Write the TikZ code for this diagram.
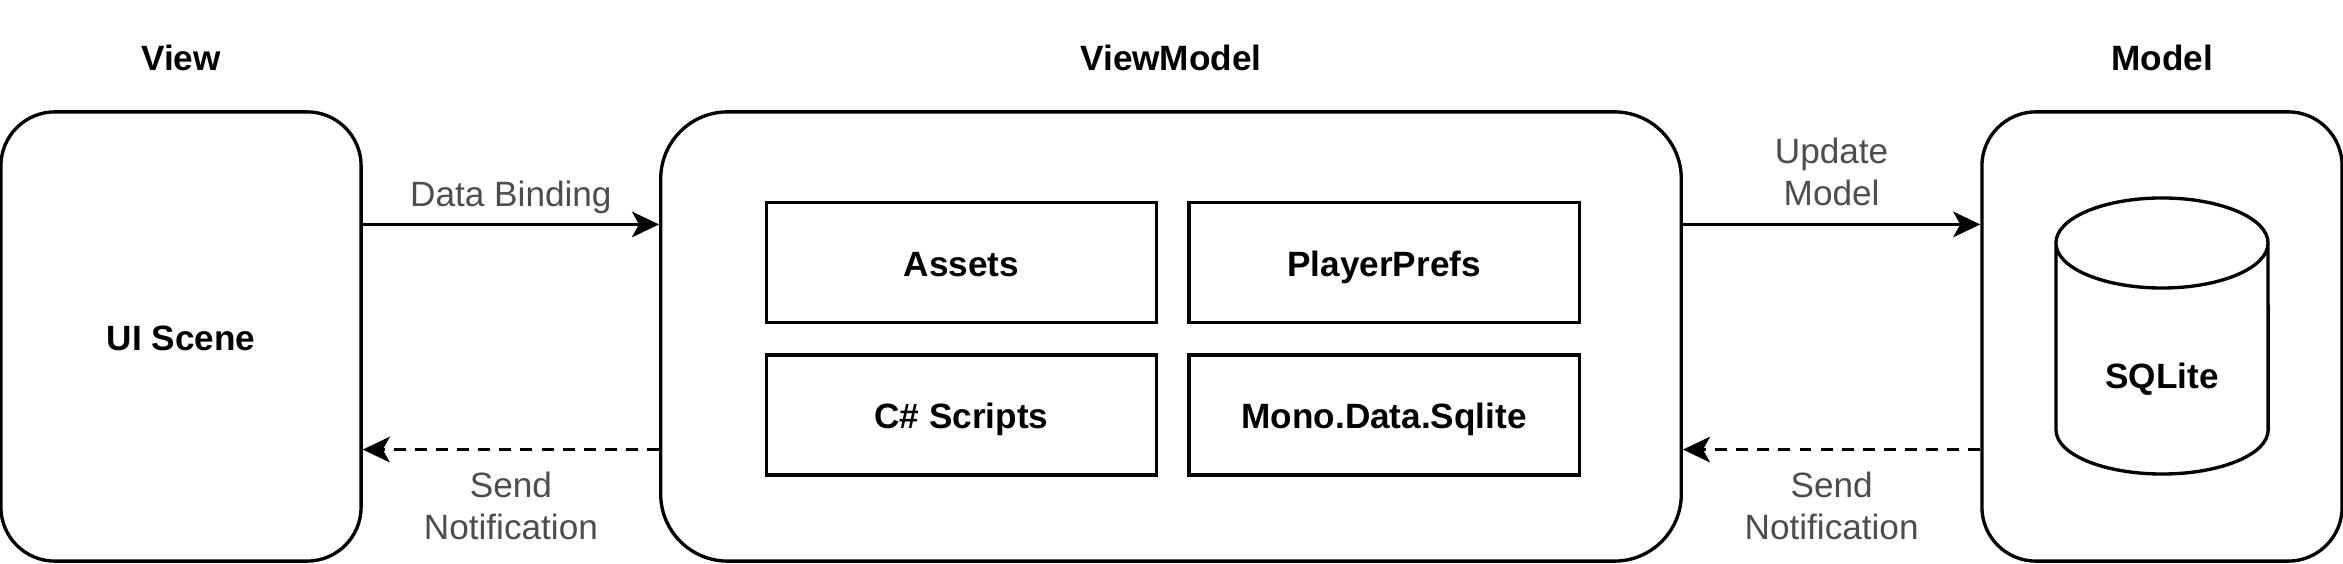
\documentclass[tikz,border=0pt]{standalone}
\usepackage{fontspec}
\setmainfont{Liberation Sans}
\usetikzlibrary{
arrows.meta,
positioning
}
\tikzset{>={Stealth[length=7.7pt,width=7.3pt,inset=2pt]}}
\definecolor{labelgray}{HTML}{4D4D4D}

\begin{document}
\begin{tikzpicture}[x=0.01cm, y=0.01cm, node distance=0.29cm,
		boldtext/.style={font=\bfseries, text height=1em, text depth=0.2em},
		layer/.style={draw, line width=0.95pt, rounded corners=0.54cm, minimum width=3.6cm, minimum height=4.49cm, boldtext},
		part/.style={draw, line width=0.95pt, minimum width=3.9cm, minimum height=1.2cm, inner sep=0pt, boldtext},
		title/.style={font=\bfseries},
		flow/.style={->, line width=0.75pt},
		back/.style={flow, dash pattern=on 3.4pt off 2.6pt},
		edgelabel/.style={text=labelgray, align=center}]
		\useasboundingbox (0,0) rectangle (2343,564);
		
		\node[layer] (view) at (181,227.5) {UI Scene};
		\node[layer, minimum width=10.2cm, rounded corners=0.67cm] (viewmodel) at (1171,227.5) {};
		\node[layer] (model) at (2162,227.5) {};
		
		\node[title, above=0.27cm of view] (viewtitle) {View};
		\node[title, above=0.27cm of viewmodel] (viewmodeltitle) {ViewModel};
		\node[title, above=0.27cm of model] (modeltitle) {Model};
		
		\node[part] (assets) at (961.5,301.5) {Assets};
		\node[part, right=of assets] (prefs) {PlayerPrefs};
		\node[part, below=of assets] (scripts) {C\# Scripts};
		\node[part, right=of scripts] (mono) {Mono.Data.Sqlite};
		
		\node[boldtext] (sqlite) at (2162,190) {SQLite};
		\draw[line width=0.95pt] (2056,321) -- (2056,134) arc[start angle=180, end angle=360, x radius=1.06cm, y radius=0.44cm] -- (2268,321) arc[start angle=0, end angle=360, x radius=1.06cm, y radius=0.45cm];
		
		\draw[flow] ([yshift=1.12cm]view.east) -- node[edgelabel, above, yshift=-0.8pt] {Data Binding} ([yshift=1.12cm]viewmodel.west);
		\draw[back] ([yshift=-1.13cm]viewmodel.west) -- node[edgelabel, below=2.7pt] {Send\\Notification} ([yshift=-1.13cm]view.east);
		\draw[flow] ([yshift=1.12cm]viewmodel.east) -- node[edgelabel, above, yshift=1.5pt] {Update\\Model} ([yshift=1.12cm]model.west);
		\draw[back] ([yshift=-1.13cm]model.west) -- node[edgelabel, below=2.7pt] {Send\\Notification} ([yshift=-1.13cm]viewmodel.east);
	\end{tikzpicture}
\end{document}
